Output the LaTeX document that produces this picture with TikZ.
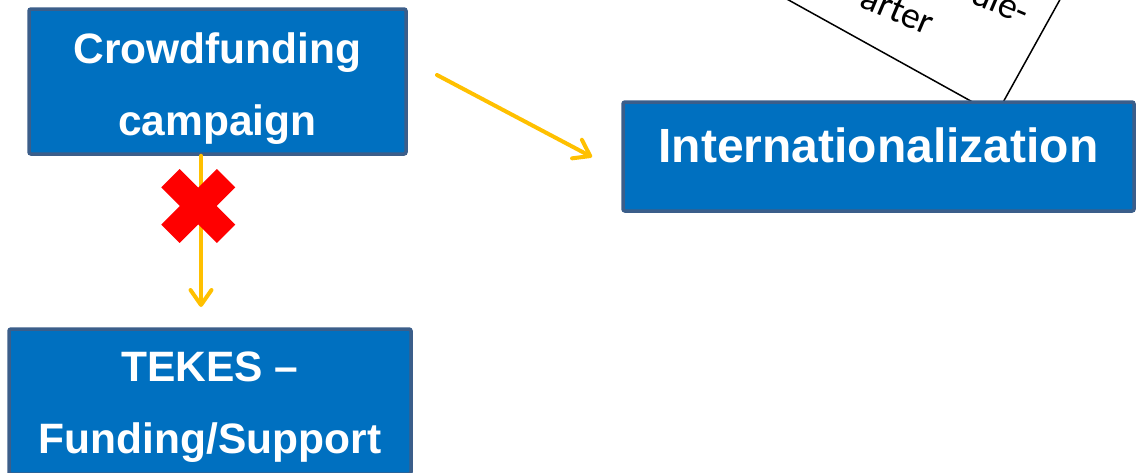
\documentclass[tikz,border=0pt]{standalone}
\usepackage{fontspec}
\setmainfont{Liberation Sans}
\newfontfamily\carlito{Carlito}
\usetikzlibrary{arrows.meta,calc}
\definecolor{boxblue}{HTML}{0070C0}
\definecolor{boxedge}{HTML}{3B5E8A}
\definecolor{arroworange}{HTML}{FFC000}
\tikzset{
  bluebox/.style={draw=boxedge, line width=3.5pt, fill=boxblue, rounded corners=2pt,
    inner sep=0pt, text=white, font=\bfseries\fontsize{42.5}{72}\selectfont, align=center},
  flow/.style={draw=arroworange, line width=4pt, line cap=round,
    -{Straight Barb[length=15pt,width=21pt,round]}},
  cross/.style={draw=red, line width=26pt},
  notebox/.style={draw=black, line width=1.5pt, fill=white},
  notetext/.style={font=\carlito\fontsize{37.5}{45}\selectfont, anchor=base east,
    inner sep=0pt, rotate=-23}
}
\begin{document}
\begin{tikzpicture}[x=1pt,y=-1pt]
\useasboundingbox (0,0) rectangle (1139,472);
\clip (0,0) rectangle (1139,472);
% rotated note box, partly hidden
\begin{scope}[shift={(996,115)}, rotate=-29]
  \draw[notebox] (-600,-400) rectangle (0,0);
\end{scope}
\node[notetext] (n1) at (1023,25) {ule-};
\node[notetext] (n2) at (928,35.5) {arter};
% blue boxes
\node[bluebox, minimum width=377pt, minimum height=145pt] (cf) at (217.5,81.5)
  {\rule{0pt}{45pt}Crowdfunding\\campaign\rule[-10pt]{0pt}{10pt}};
\node[bluebox, minimum width=511pt, minimum height=109pt,
  font=\bfseries\fontsize{48}{58}\selectfont] (int) at (878.5,156.5)
  {\rule[-30pt]{0pt}{71pt}Internationalization};
\node[bluebox, minimum width=402pt, minimum height=145pt] (tk) at (210,401.5)
  {\rule{0pt}{41pt}TEKES –\\Funding/Support\rule[-10pt]{0pt}{10pt}};
% arrows
\coordinate (a1e) at (201,307);
\draw[flow] (cf.south -| a1e) -- (a1e);
\coordinate (a2s) at (437,75);
\coordinate (a2e) at (592,157);
\draw[flow] (a2s) -- (a2e);
% red cross
\coordinate (xc) at (198.3,206);
\draw[cross] ($(xc)+(-27.8,-27.8)$) -- ($(xc)+(27.8,27.8)$);
\draw[cross] ($(xc)+(-27.8,27.8)$) -- ($(xc)+(27.8,-27.8)$);
\end{tikzpicture}
\end{document}
